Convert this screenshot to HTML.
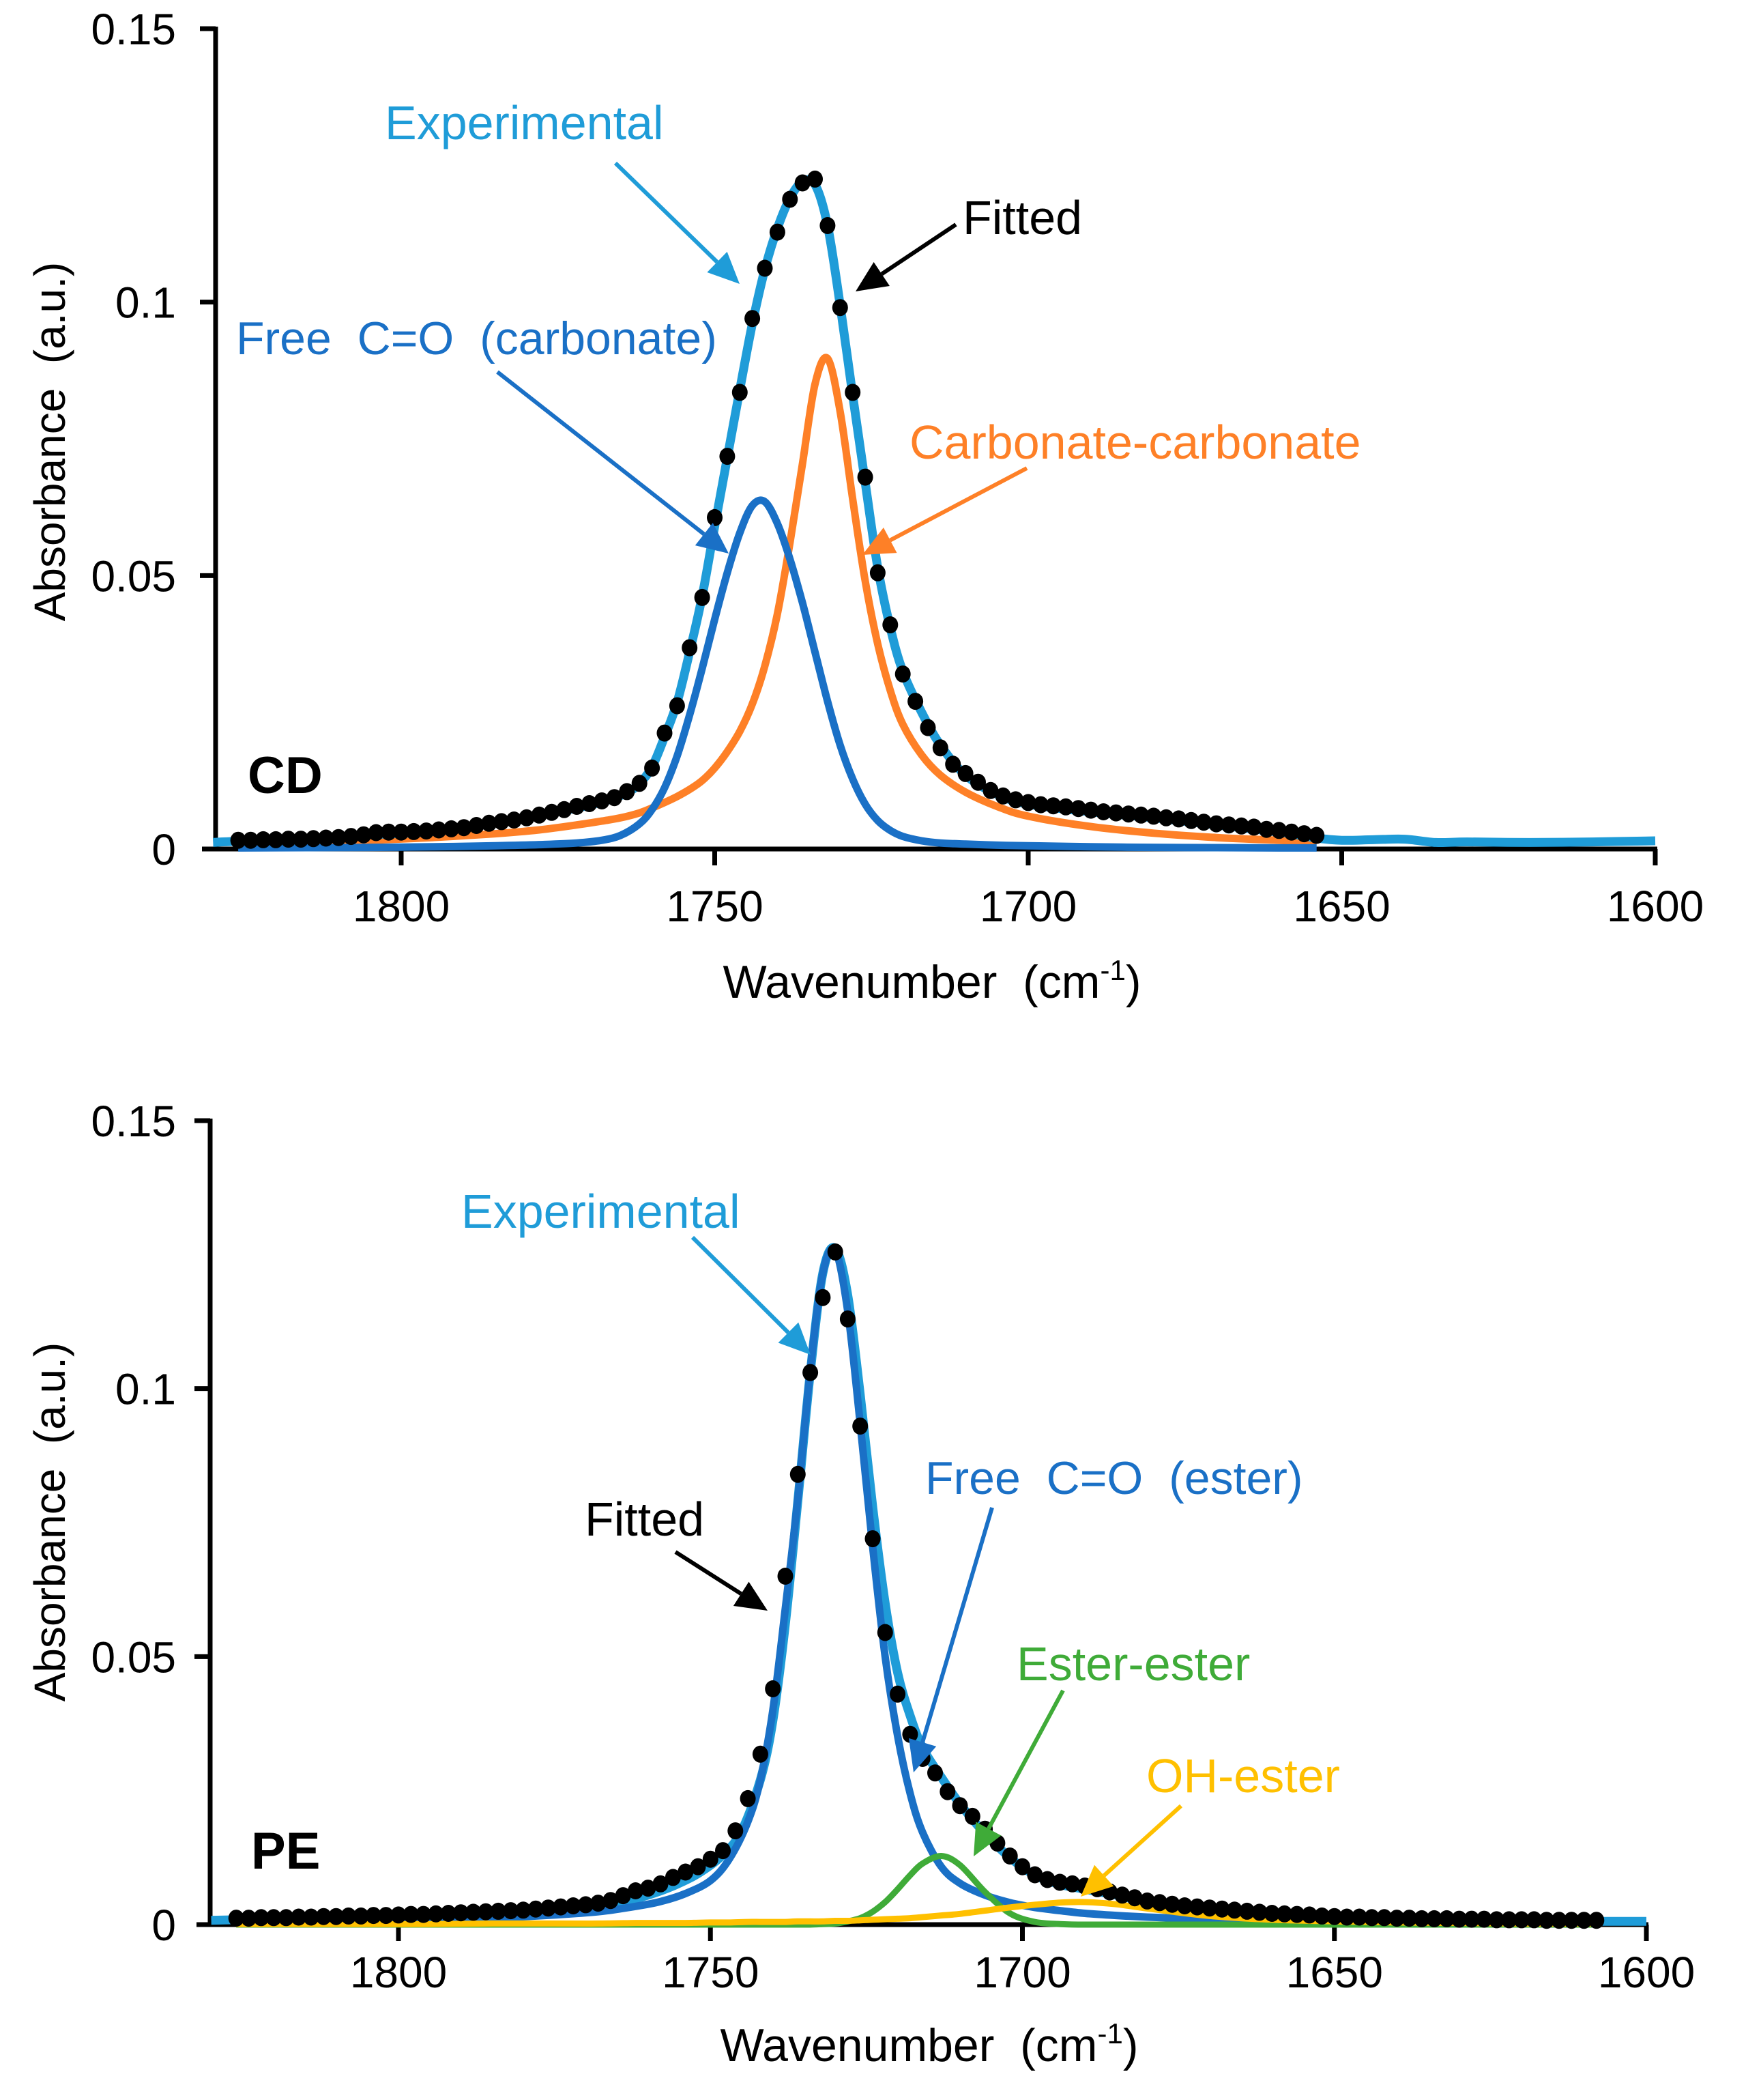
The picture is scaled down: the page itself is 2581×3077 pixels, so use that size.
<!DOCTYPE html>
<html><head><meta charset="utf-8"><style>
html,body{margin:0;padding:0;background:#fff}
svg{display:block}
text{font-family:"Liberation Sans",Arial,sans-serif}
</style></head><body>
<svg id="fig" width="2581" height="3077" viewBox="0 0 2581 3077" xmlns="http://www.w3.org/2000/svg">
<rect width="2581" height="3077" fill="#fff"/>
<g id="top"></g>
<g id="bot"></g>
</svg>
<script>
// ---------- TOP PANEL (CD) DATA ----------
const cdGrid = [1826,1815,1805,1795,1785,1778,1772,1768,1765,1762,1760,1758,1756,1754,1752,1750,1748,1746,1744,1742,1740,1738,1736,1734,1732,1730,1728,1726,1724,1722,1720,1717,1714,1710,1705,1700,1690,1680,1670,1660,1654];
const cdFreeCO = [0.0002,0.00025,0.0003,0.0004,0.0006,0.0008,0.0011,0.0016,0.0025,0.0046,0.0072,0.0112,0.0170,0.0245,0.0330,0.0420,0.0505,0.0578,0.0628,0.0635,0.0595,0.0530,0.0450,0.0360,0.0270,0.0190,0.0128,0.0082,0.0052,0.0034,0.0023,0.0015,0.0011,0.0009,0.0007,0.0006,0.0004,0.0003,0.00025,0.0002,0.0002];
const cdCarbCarb = [0.0010,0.0012,0.0016,0.0021,0.0028,0.0035,0.0044,0.0051,0.0057,0.0066,0.0075,0.0085,0.0096,0.0109,0.0125,0.0148,0.0178,0.0215,0.0265,0.0335,0.0430,0.0560,0.0705,0.0850,0.0897,0.0800,0.0640,0.0490,0.0375,0.0290,0.0228,0.0172,0.0135,0.0104,0.0078,0.0060,0.0041,0.0029,0.0021,0.0016,0.0014];
const cdExpWn = [1830,1826,1815,1805,1795,1785,1775,1768,1764,1762,1760,1758,1756,1754,1752,1750,1748,1746,1744,1742,1740,1738,1736,1734,1732,1730,1728,1726,1724,1722,1720,1717,1714,1710,1705,1700,1690,1680,1670,1660,1654,1650,1645,1640,1635,1630,1620,1610,1600];
const cdExp = [0.0012,0.0014,0.0017,0.0026,0.0032,0.0048,0.0068,0.0086,0.0103,0.0120,0.0150,0.0205,0.0268,0.0360,0.0462,0.0590,0.0715,0.0840,0.0960,0.1060,0.1135,0.1190,0.1220,0.1215,0.1140,0.0995,0.0830,0.0670,0.0515,0.0405,0.0325,0.0250,0.0190,0.0135,0.0100,0.0082,0.0068,0.0057,0.0044,0.0031,0.0020,0.0016,0.0017,0.0018,0.0012,0.0013,0.0012,0.0013,0.0015];
const cdDotStart = 1826, cdDotStep = 2;
const cdFitted = [0.0016,0.0016,0.0017,0.0017,0.0018,0.0018,0.0019,0.0020,0.0021,0.0023,0.0026,0.0030,0.0031,0.0031,0.0032,0.0033,0.0035,0.0037,0.0039,0.0043,0.0047,0.0050,0.0053,0.0057,0.0062,0.0067,0.0072,0.0078,0.0083,0.0088,0.0094,0.0105,0.0120,0.0148,0.0212,0.0262,0.0368,0.0460,0.0606,0.0718,0.0835,0.0970,0.1062,0.1128,0.1188,0.1218,0.1225,0.1140,0.0990,0.0835,0.0680,0.0505,0.0410,0.0320,0.0270,0.0222,0.0185,0.0155,0.0138,0.0122,0.0107,0.0097,0.0090,0.0085,0.0081,0.0079,0.0077,0.0074,0.0071,0.0068,0.0066,0.0064,0.0062,0.0060,0.0057,0.0055,0.0052,0.0049,0.0046,0.0044,0.0042,0.0040,0.0036,0.0034,0.0031,0.0028,0.0025];

// ---------- BOTTOM PANEL (PE) DATA ----------
const peGrid = [1826,1815,1805,1795,1785,1775,1768,1762,1758,1754,1750,1747,1744,1742,1740,1738,1736,1734,1732,1730,1728,1726,1724,1722,1720,1718,1716,1713,1710,1706,1702,1698,1694,1690,1685,1680,1670,1660,1650,1640,1630,1620,1610,1608];
const peFreeCO = [0.0004,0.0005,0.0006,0.0009,0.0012,0.0018,0.0024,0.0034,0.0043,0.0058,0.0082,0.0122,0.0192,0.0270,0.0400,0.0590,0.0795,0.1035,0.1215,0.1258,0.1145,0.0935,0.0705,0.0500,0.0352,0.0245,0.0172,0.0108,0.0077,0.0055,0.0041,0.0032,0.0026,0.0021,0.0017,0.0014,0.0010,0.0007,0.0005,0.0004,0.0004,0.0003,0.0003,0.0003];
const peEsterEster = [0,0,0,0,0,0,0,0,0,0,0,0,0,0,0,0,0,0,0.0001,0.0002,0.0006,0.0012,0.0024,0.0042,0.0066,0.0092,0.0114,0.0128,0.0111,0.0061,0.0021,0.0005,0.0001,0,0,0,0,0,0,0,0,0,0,0];
const peOHEster = [0.0001,0.0001,0.0001,0.0001,0.0002,0.0002,0.0002,0.0003,0.0003,0.0003,0.0004,0.0004,0.0005,0.0005,0.0005,0.0005,0.0006,0.0006,0.0006,0.0007,0.0007,0.0008,0.0009,0.0010,0.0011,0.0012,0.0014,0.0017,0.0020,0.0026,0.0032,0.0037,0.0041,0.0042,0.0038,0.0030,0.0016,0.0009,0.0006,0.0004,0.0003,0.0002,0.0002,0.0002];
const peExpWn = [1830,1826,1810,1800,1790,1780,1770,1764,1760,1756,1752,1748,1745,1742,1740,1738,1736,1734,1732,1730,1728,1726,1724,1722,1720,1718,1716,1713,1710,1706,1702,1698,1694,1690,1685,1680,1670,1660,1650,1640,1630,1620,1610,1600];
const peExp = [0.0008,0.0009,0.0012,0.0015,0.0019,0.0025,0.0033,0.0043,0.0055,0.0072,0.0095,0.0130,0.0175,0.0270,0.0380,0.0560,0.0790,0.1030,0.1215,0.1262,0.1175,0.0990,0.0780,0.0600,0.0470,0.0390,0.0330,0.0275,0.0225,0.0170,0.0125,0.0092,0.0075,0.0066,0.0055,0.0043,0.0028,0.0018,0.0012,0.0009,0.0007,0.0006,0.0006,0.0006];
const peDotStart = 1826, peDotStep = 2;
const peFitted = [0.0012,0.0012,0.0013,0.0013,0.0013,0.0014,0.0014,0.0015,0.0015,0.0016,0.0016,0.0017,0.0017,0.0018,0.0019,0.0019,0.0020,0.0021,0.0022,0.0023,0.0024,0.0025,0.0026,0.0027,0.0029,0.0031,0.0033,0.0035,0.0037,0.0040,0.0045,0.0054,0.0063,0.0068,0.0076,0.0088,0.0098,0.0108,0.0122,0.0138,0.0175,0.0235,0.0318,0.0440,0.0650,0.0840,0.1030,0.1170,0.1255,0.1130,0.0930,0.0720,0.0545,0.0430,0.0355,0.0310,0.0283,0.0248,0.0222,0.0202,0.0178,0.0152,0.0128,0.0108,0.0093,0.0084,0.0079,0.0076,0.0072,0.0067,0.0061,0.0055,0.0050,0.0044,0.0041,0.0038,0.0035,0.0033,0.0031,0.0029,0.0027,0.0025,0.0023,0.0021,0.0020,0.0019,0.0018,0.0016,0.0015,0.0014,0.0014,0.0013,0.0013,0.0012,0.0012,0.0011,0.0011,0.0011,0.0010,0.0010,0.0010,0.0009,0.0009,0.0009,0.0009,0.0008,0.0008,0.0008,0.0008,0.0008];

// ---------- AXES ----------
const yTickVals = [0, 0.05, 0.1, 0.15];
const yTickLabels = ["0", "0.05", "0.1", "0.15"];
const xTickVals = [1800, 1750, 1700, 1650, 1600];
const xTickLabels = ["1800", "1750", "1700", "1650", "1600"];

const NS = "http://www.w3.org/2000/svg";
const C = {cyan:"#1f9cd8", blue:"#1a70c6", orange:"#fe8027", green:"#3fab38", yellow:"#ffc000"};

function mk(parent, tag, attrs){
  const e = document.createElementNS(NS, tag);
  for (const k in attrs) e.setAttribute(k, attrs[k]);
  parent.appendChild(e);
  return e;
}
function makeAxes(p){
  return {
    x: w => p.x1800 + (1800 - w) * (p.x1600 - p.x1800) / 200,
    y: v => p.y0 - v * (p.y0 - p.y15) / 0.15
  };
}
function smoothPath(pts){
  let d = "M" + pts[0][0].toFixed(1) + "," + pts[0][1].toFixed(1);
  for (let i = 0; i < pts.length - 1; i++){
    const p0 = pts[Math.max(0,i-1)], p1 = pts[i], p2 = pts[i+1], p3 = pts[Math.min(pts.length-1,i+2)];
    const t = 6;
    const c1x = p1[0] + (p2[0]-p0[0])/t, c1y = p1[1] + (p2[1]-p0[1])/t;
    const c2x = p2[0] - (p3[0]-p1[0])/t, c2y = p2[1] - (p3[1]-p1[1])/t;
    d += " C" + c1x.toFixed(1) + "," + c1y.toFixed(1) + " " + c2x.toFixed(1) + "," + c2y.toFixed(1) + " " + p2[0].toFixed(1) + "," + p2[1].toFixed(1);
  }
  return d;
}
function drawCurve(g, ax, wn, vals, color, width, name){
  const pts = wn.map((w,i) => [ax.x(w), ax.y(vals[i])]);
  const el = mk(g, "path", {d: smoothPath(pts), fill:"none", stroke:color, "stroke-width":width, "stroke-linejoin":"round", "stroke-linecap":"butt"});
  
  
}
function drawDots(g, ax, start, step, vals, name){
  const dg = mk(g, "g", {fill:"#000"});
  
  
  vals.forEach((v,i) => {
    const c = mk(dg, "ellipse", {cx: ax.x(start - i*step).toFixed(1), cy: ax.y(v).toFixed(1), rx: 11.5, ry: 12.5});
    
    
  });
}
function drawFrame(g, ax, p){
  const fr = mk(g, "g", {stroke:"#000", "stroke-width":7, fill:"none"});
  const ya = mk(fr, "line", {x1:p.axX, y1:p.y15-3, x2:p.axX, y2:p.y0+3});
  
  
  const xa = mk(fr, "line", {x1:p.axX-20, y1:p.y0, x2:ax.x(1600)+3, y2:p.y0});
  
  
  yTickVals.forEach((v,i) => {
    const yy = ax.y(v);
    if (v > 0) mk(fr, "line", {x1:p.axX-23, y1:yy, x2:p.axX, y2:yy});
    const t = mk(g, "text", {x:258, y:(yy+23).toFixed(1), "font-size":64, "text-anchor":"end", fill:"#000"});
    t.textContent = yTickLabels[i];
    
    
  });
  xTickVals.forEach((w,i) => {
    const xx = ax.x(w);
    mk(fr, "line", {x1:xx, y1:p.y0, x2:xx, y2:p.y0+24});
    const t = mk(g, "text", {x:xx.toFixed(1), y:p.xLabY, "font-size":64, "text-anchor":"middle", fill:"#000"});
    t.textContent = xTickLabels[i];
    
    
  });
}
function label(g, x, y, txt, color, size, name, bold){
  const t = mk(g, "text", {x:x, y:y, "font-size":size, fill:color, "xml:space":"preserve"});
  if (bold) t.setAttribute("font-weight","bold");
  t.style.whiteSpace = "pre";
  t.textContent = txt;
  
  
  return t;
}
function arrow(g, x1, y1, x2, y2, color, name){
  const ag = mk(g, "g", {});
  
  
  const dx = x2-x1, dy = y2-y1, L = Math.hypot(dx,dy), ux = dx/L, uy = dy/L;
  const hl = 46, hw = 21;
  const bx = x2 - ux*hl, by = y2 - uy*hl;
  mk(ag, "line", {x1:x1, y1:y1, x2:bx, y2:by, stroke:color, "stroke-width":6});
  mk(ag, "polygon", {points: x2+","+y2+" "+(bx-uy*hw)+","+(by+ux*hw)+" "+(bx+uy*hw)+","+(by-ux*hw), fill:color});
}
function titles(g, p){
  const t = mk(g, "text", {x:p.titleX, y:p.titleY, "font-size":68, "text-anchor":"middle", fill:"#000", "xml:space":"preserve"});
  t.style.whiteSpace = "pre";
  
  
  const a = document.createElementNS(NS,"tspan"); a.textContent = "Wavenumber  (cm"; t.appendChild(a);
  const b = document.createElementNS(NS,"tspan"); b.textContent = "-1"; b.setAttribute("font-size","42"); b.setAttribute("dy","-26"); t.appendChild(b);
  const c = document.createElementNS(NS,"tspan"); c.textContent = ")"; c.setAttribute("dy","26"); t.appendChild(c);
  const y = mk(g, "text", {x:0, y:0, "font-size":64, "text-anchor":"middle", fill:"#000", transform:"translate(95,"+p.yTitleC+") rotate(-90)", "xml:space":"preserve"});
  y.style.whiteSpace = "pre";
  y.textContent = "Absorbance  (a.u.)";
  
  
}

// ---- top ----
const PT = {x1800:588, x1600:2426, y0:1244, y15:42, axX:316, xLabY:1350, titleX:1366, titleY:1462, yTitleC:647};
const axT = makeAxes(PT);
const gT = document.getElementById("top");
drawFrame(gT, axT, PT);
drawCurve(gT, axT, cdGrid, cdCarbCarb, C.orange, 11, "carbonate-carbonate-curve");
drawCurve(gT, axT, cdGrid, cdFreeCO, C.blue, 11, "free-co-carbonate-curve");
drawCurve(gT, axT, cdExpWn, cdExp, C.cyan, 13, "experimental-curve");
drawDots(gT, axT, cdDotStart, cdDotStep, cdFitted, "fitted-points");
titles(gT, PT);
label(gT, 564, 204, "Experimental", C.cyan, 70, "experimental-label");
label(gT, 1411, 343, "Fitted", "#000", 70, "fitted-label");
label(gT, 346, 519, "Free  C=O  (carbonate)", C.blue, 68, "free-co-carbonate-label");
label(gT, 1333, 672, "Carbonate-carbonate", C.orange, 70, "carbonate-carbonate-label");
label(gT, 363, 1162, "CD", "#000", 76, "cd-panel-label", true);
arrow(gT, 902, 239, 1084, 416, C.cyan, "experimental-arrow");
arrow(gT, 1401, 329, 1254, 427, "#000", "fitted-arrow");
arrow(gT, 729, 545, 1068, 811, C.blue, "free-co-carbonate-arrow");
arrow(gT, 1505, 686, 1264, 813, C.orange, "carbonate-carbonate-arrow");

// ---- bottom ----
const PB = {x1800:584, x1600:2413, y0:2820, y15:1642, axX:308, xLabY:2912, titleX:1362, titleY:3020, yTitleC:2230};
const axB = makeAxes(PB);
const gB = document.getElementById("bot");
drawFrame(gB, axB, PB);
drawCurve(gB, axB, peExpWn, peExp, C.cyan, 13, "experimental-curve");
drawCurve(gB, axB, peGrid, peFreeCO, C.blue, 11, "free-co-ester-curve");
drawCurve(gB, axB, peGrid, peEsterEster, C.green, 9, "ester-ester-curve");
drawCurve(gB, axB, peGrid, peOHEster, C.yellow, 9, "oh-ester-curve");
drawDots(gB, axB, peDotStart, peDotStep, peFitted, "fitted-points");
titles(gB, PB);
label(gB, 676, 1799, "Experimental", C.cyan, 70, "experimental-label");
label(gB, 857, 2250, "Fitted", "#000", 70, "fitted-label");
label(gB, 1356, 2189, "Free  C=O  (ester)", C.blue, 68, "free-co-ester-label");
label(gB, 1490, 2462, "Ester-ester", C.green, 70, "ester-ester-label");
label(gB, 1680, 2626, "OH-ester", C.yellow, 70, "oh-ester-label");
label(gB, 368, 2738, "PE", "#000", 76, "pe-panel-label", true);
arrow(gB, 1015, 1813, 1188, 1985, C.cyan, "experimental-arrow");
arrow(gB, 990, 2274, 1125, 2360, "#000", "fitted-arrow");
arrow(gB, 1454, 2209, 1339, 2597, C.blue, "free-co-ester-arrow");
arrow(gB, 1558, 2477, 1427, 2720, C.green, "ester-ester-arrow");
arrow(gB, 1731, 2646, 1584, 2779, C.yellow, "oh-ester-arrow");
</script>
</body></html>
